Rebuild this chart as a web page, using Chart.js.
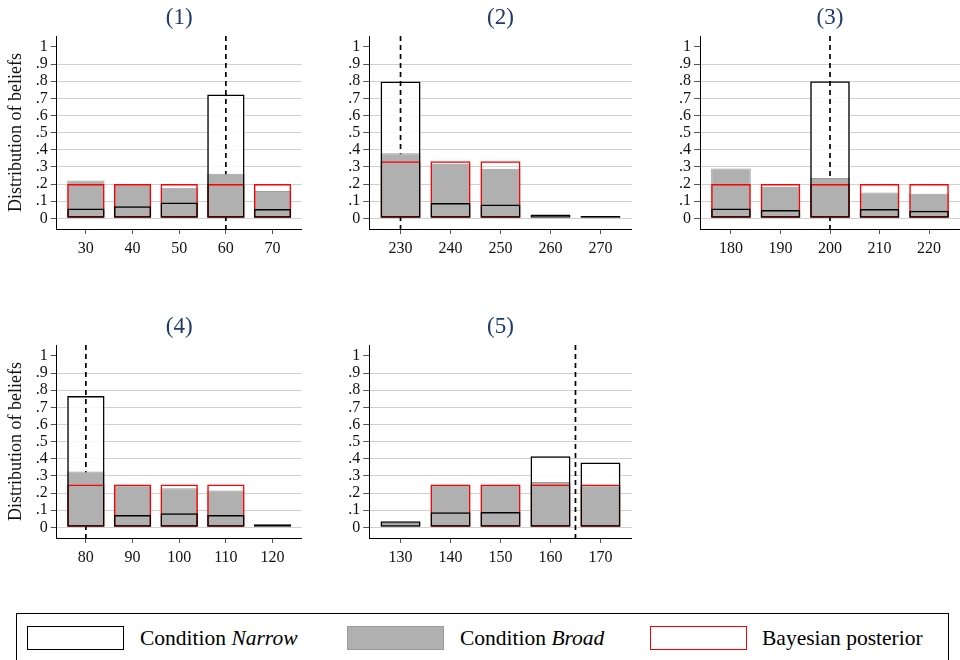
<!DOCTYPE html>
<html>
<head>
<meta charset="utf-8">
<script src="https://cdn.jsdelivr.net/npm/chart.js@4.4.0/dist/chart.umd.min.js"></script>
<style>
  body { margin: 0; background: #fff; width: 960px; height: 660px; overflow: hidden; position: relative; font-family: "Liberation Serif", serif; }
  canvas { position: absolute; }
  #legend { position: absolute; left: 16px; top: 613px; width: 933px; height: 70px; border: 1px solid #000; box-sizing: border-box; }
  .key { position: absolute; top: 12px; width: 97px; height: 24px; box-sizing: border-box; }
  .lab { position: absolute; top: 10px; font-size: 21.5px; line-height: 28px; color: #000; white-space: nowrap; }
</style>
</head>
<body>
<canvas id="p1"></canvas>
<canvas id="p2"></canvas>
<canvas id="p3"></canvas>
<canvas id="p4"></canvas>
<canvas id="p5"></canvas>

<div id="legend">
  <div class="key" style="left:10px;border:1.5px solid #000;background:#fff"></div>
  <div class="lab" style="left:123px">Condition <i>Narrow</i></div>
  <div class="key" style="left:330px;border:1px solid #9a9a9a;background:#b0b0b0"></div>
  <div class="lab" style="left:443px">Condition <i>Broad</i></div>
  <div class="key" style="left:633px;border:1.5px solid #ff0000;background:#fff"></div>
  <div class="lab" style="left:745px">Bayesian posterior</div>
</div>

<script>
// --- данные ---
const panelTitles = ['(1)', '(2)', '(3)', '(4)', '(5)'];
const truthValues = [60, 230, 200, 80, 165];   // пунктирная линия
const yTickValues = [0, 0.1, 0.2, 0.3, 0.4, 0.5, 0.6, 0.7, 0.8, 0.9, 1];

const cats1 = [30, 40, 50, 60, 70];
const narrow1 = [0.058, 0.07, 0.093, 0.723, 0.055];
const broad1 = [0.221, 0.197, 0.178, 0.26, 0.159];
const bayes1 = [0.2, 0.2, 0.2, 0.2, 0.2];

const cats2 = [230, 240, 250, 260, 270];
const narrow2 = [0.799, 0.089, 0.081, 0.023, 0.014];
const broad2 = [0.38, 0.318, 0.289, 0, 0.008];
const bayes2 = [0.333, 0.333, 0.333, 0, 0];

const cats3 = [180, 190, 200, 210, 220];
const narrow3 = [0.058, 0.049, 0.8, 0.055, 0.045];
const broad3 = [0.291, 0.184, 0.235, 0.151, 0.144];
const bayes3 = [0.2, 0.2, 0.2, 0.2, 0.2];

const cats4 = [80, 90, 100, 110, 120];
const narrow4 = [0.766, 0.072, 0.082, 0.072, 0.018];
const broad4 = [0.326, 0.246, 0.228, 0.215, 0];
const bayes4 = [0.25, 0.25, 0.25, 0.25, 0];

const cats5 = [130, 140, 150, 160, 170];
const narrow5 = [0.035, 0.088, 0.09, 0.415, 0.378];
const broad5 = [0.025, 0.248, 0.248, 0.265, 0.245];
const bayes5 = [0, 0.25, 0.25, 0.25, 0.25];

// --- геометрия панелей ---
const FONT = '"Liberation Serif", serif';
const X_PAD = 6.25;      // поля по оси x в единицах данных
const CANVAS_H = 270;
const PLOT_TOP = 36;
const PLOT_BOTTOM = 229;

const panels = [
    { id: 'p1', left: 0,   top: 0,     width: 320, yAxisW: 56.7, padRight: 18.3, yTitle: true,  cats: cats1, narrow: narrow1, broad: broad1, bayes: bayes1 },
    { id: 'p2', left: 320, top: 0,     width: 320, yAxisW: 49.3, padRight: 8.3,  yTitle: false, cats: cats2, narrow: narrow2, broad: broad2, bayes: bayes2 },
    { id: 'p3', left: 640, top: 0,     width: 320, yAxisW: 60,   padRight: 0,    yTitle: false, cats: cats3, narrow: narrow3, broad: broad3, bayes: bayes3 },
    { id: 'p4', left: 0,   top: 308.5, width: 320, yAxisW: 56.7, padRight: 18.3, yTitle: true,  cats: cats4, narrow: narrow4, broad: broad4, bayes: bayes4 },
    { id: 'p5', left: 320, top: 308.5, width: 320, yAxisW: 49.3, padRight: 8.3,  yTitle: false, cats: cats5, narrow: narrow5, broad: broad5, bayes: bayes5 }
];

// Заголовок панели по центру области графика
const panelTitlePlugin = {
    id: 'panelTitle',
    afterDraw(chart, args, opts) {
        const { ctx, chartArea } = chart;
        ctx.save();
        ctx.font = '23px ' + FONT;
        ctx.fillStyle = '#1e3a6e';
        ctx.textAlign = 'center';
        ctx.textBaseline = 'middle';
        ctx.fillText(opts.text, (chartArea.left + chartArea.right) / 2, 18);
        ctx.restore();
    }
};

// Пунктир на истинном значении: поверх белой заливки, под серыми столбцами
const truthLinePlugin = {
    id: 'truthLine',
    afterDatasetDraw(chart, args, opts) {
        if (args.index !== 0) return;
        const { ctx, chartArea } = chart;
        const x = chart.scales.x.getPixelForValue(opts.value);
        ctx.save();
        ctx.strokeStyle = '#000';
        ctx.lineWidth = 1.7;
        ctx.setLineDash([5, 4]);
        ctx.beginPath();
        ctx.moveTo(x, chartArea.top);
        ctx.lineTo(x, chartArea.bottom);
        ctx.stroke();
        ctx.restore();
    }
};

function yLabel(v) {
    if (v === 0) return '0';
    if (v >= 1) return '1';
    return '.' + Math.round(v * 10);
}

function buildPanel(p, i) {
    const canvas = document.getElementById(p.id);
    canvas.style.left = p.left + 'px';
    canvas.style.top = p.top + 'px';
    canvas.width = p.width;
    canvas.height = CANVAS_H;
    const pts = arr => p.cats.map((c, k) => ({ x: c, y: arr[k] }));

    return new Chart(canvas, {
        type: 'bar',
        data: {
            datasets: [
                { label: 'fill', data: pts(p.narrow), backgroundColor: 'rgba(255,255,255,0.85)', borderWidth: 0, order: 4 },
                { label: 'Condition Broad', data: pts(p.broad), backgroundColor: '#b0b0b0', borderColor: '#9c9c9c', borderWidth: 1, order: 3 },
                { label: 'Bayesian posterior', data: pts(p.bayes), backgroundColor: 'rgba(0,0,0,0)', borderColor: '#ff0000', borderWidth: 1.5, order: 2 },
                { label: 'Condition Narrow', data: pts(p.narrow), backgroundColor: 'rgba(0,0,0,0)', borderColor: '#000000', borderWidth: 1.5, order: 1 }
            ]
        },
        options: {
            responsive: false,
            animation: false,
            grouped: false,
            barPercentage: 0.8,
            categoryPercentage: 1,
            borderSkipped: false,
            layout: { padding: { top: PLOT_TOP, left: 0, right: p.padRight, bottom: 0 } },
            scales: {
                x: {
                    type: 'linear',
                    offset: false,
                    min: p.cats[0] - X_PAD,
                    max: p.cats[p.cats.length - 1] + X_PAD,
                    afterBuildTicks: s => { s.ticks = p.cats.map(v => ({ value: v })); },
                    afterFit: s => { s.height = CANVAS_H - PLOT_BOTTOM; },
                    border: { display: true, color: '#000', width: 1 },
                    grid: { offset: false, drawOnChartArea: false, drawTicks: true, tickLength: 5, tickColor: '#555' },
                    ticks: { font: { family: FONT, size: 16 }, color: '#111', padding: 5, maxRotation: 0, autoSkip: false }
                },
                y: {
                    min: -0.062,
                    max: 1.064,
                    afterBuildTicks: s => { s.ticks = yTickValues.map(v => ({ value: v })); },
                    afterFit: s => { s.width = p.yAxisW; },
                    border: { display: true, color: '#000', width: 1 },
                    grid: {
                        color: c => (c.tick && c.tick.value >= 1) ? 'rgba(0,0,0,0)' : '#d0d0d0',
                        lineWidth: 1,
                        drawTicks: true,
                        tickLength: 6,
                        tickColor: '#555'
                    },
                    ticks: { font: { family: FONT, size: 16 }, color: '#111', padding: 3, autoSkip: false, callback: v => yLabel(v) },
                    title: {
                        display: p.yTitle,
                        text: 'Distribution of beliefs',
                        font: { family: FONT, size: 18 },
                        color: '#111',
                        padding: { top: 5, bottom: 0 }
                    }
                }
            },
            plugins: {
                legend: { display: false },
                tooltip: { enabled: false },
                panelTitle: { text: panelTitles[i] },
                truthLine: { value: truthValues[i] }
            }
        },
        plugins: [panelTitlePlugin, truthLinePlugin]
    });
}

panels.forEach(buildPanel);
</script>
</body>
</html>
